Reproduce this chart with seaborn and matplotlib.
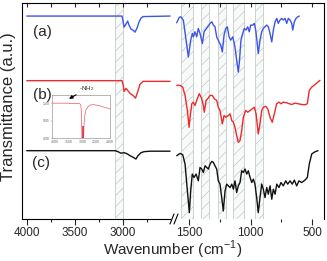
import matplotlib
matplotlib.use("Agg")
import matplotlib.pyplot as plt
import seaborn as sns
import pandas as pd
from matplotlib.ticker import FixedLocator, NullLocator

# spectra (transmittance in a.u., traces offset)
wn_a_left = [4005, 3500, 3007, 2994, 2986, 2971, 2960, 2948, 2934, 2913, 2892, 2871, 2850, 2829, 2808, 2787, 2504]
t_a_left = [202, 202, 202, 196, 191, 193, 195, 197, 193, 189, 188, 186, 190, 196, 200, 201.5, 202]
wn_b_left = [4005, 3500, 3007, 2994, 2986, 2965, 2948, 2923, 2892, 2866, 2845, 2819, 2787, 2504]
t_b_left = [137.7, 137.7, 137.7, 133, 127, 130, 128, 125, 123, 120.3, 126, 134, 137, 137]
wn_c_left = [4005, 3500, 3081, 3049, 3018, 2986, 2955, 2923, 2892, 2861, 2840, 2808, 2777, 2714, 2504]
t_c_left = [68, 68, 68, 67, 65.5, 66, 65, 63, 61.5, 59.7, 63, 66, 67, 67.5, 67.5]

wn_a_right = [1603, 1582, 1570, 1549, 1508, 1489, 1476, 1467, 1454, 1440, 1427, 1413, 1394, 1380, 1366,
              1350, 1331, 1317, 1304, 1291, 1277, 1258, 1244, 1231, 1217, 1203, 1190, 1176, 1163, 1146,
              1128, 1114, 1101, 1093, 1079, 1065, 1052, 1038, 1024, 1011, 1000, 983, 970, 959, 951,
              938, 924, 910, 897, 883, 869, 856, 842, 828, 815, 801, 787, 775, 761, 747,
              734, 720, 706, 693, 679, 665, 657, 644, 630, 616, 603]
t_a_right = [195.3, 200.7, 201.3, 198, 161.3, 178, 184.7, 181.3, 186.3, 181.3, 189.7, 184.7, 174.7, 186.3, 188.7,
             191.3, 194.7, 196.3, 193, 191.3, 181.3, 176.3, 173, 166.3, 183, 189.7, 191.3, 181.3, 178, 181.3,
             171.3, 158, 146.3, 154.7, 178, 184.7, 189.7, 188, 191.3, 186.3, 193, 193, 194.7, 188, 179.7,
             164.7, 178, 186.3, 189.7, 191.3, 193, 191.3, 184.7, 176.3, 188, 196.3, 199.7, 194.7, 198, 199.7,
             198, 199.7, 194.7, 199.7, 198, 194.7, 188, 196.3, 199.7, 201.3, 202]

wn_b_right = [1603, 1576, 1554, 1535, 1516, 1502, 1494, 1480, 1467, 1454, 1435, 1419, 1399, 1386, 1378,
              1364, 1350, 1331, 1313, 1296, 1277, 1264, 1250, 1231, 1217, 1201, 1182, 1168, 1154, 1141,
              1128, 1114, 1101, 1087, 1073, 1060, 1040, 1024, 1005, 987, 970, 956, 938, 924, 910,
              897, 875, 861, 842, 824, 807, 788, 769, 753, 734, 706, 685, 665, 639, 612,
              584, 557, 538, 522, 502, 484, 467, 451, 435]
t_b_right = [133, 133, 131.3, 123, 108, 91.3, 101.3, 114.7, 116.3, 113, 119.7, 124.7, 119.7, 113, 106.3,
             118, 119.7, 123, 123, 119.7, 118, 111.3, 108, 94.7, 103, 101.3, 103, 104.7, 98, 96.3,
             91.3, 83, 76.3, 78, 88, 101.3, 108, 106.3, 108, 109.7, 111.3, 104.7, 84.7, 94.7, 108,
             111.3, 112, 109.7, 101.3, 96.3, 104.7, 114.7, 116.3, 114.7, 116.3, 115.7, 114.7, 114, 115.3, 114.7,
             114, 113.7, 114.7, 128, 131.3, 133, 134.7, 136.3, 138]

wn_c_right = [1603, 1576, 1554, 1535, 1516, 1500, 1489, 1476, 1462, 1445, 1427, 1413, 1399, 1386, 1372,
              1358, 1345, 1331, 1317, 1304, 1291, 1277, 1264, 1250, 1236, 1223, 1209, 1195, 1182, 1168,
              1154, 1141, 1128, 1114, 1101, 1087, 1073, 1060, 1046, 1032, 1019, 1005, 991, 978, 965,
              951, 938, 924, 910, 897, 883, 869, 856, 842, 828, 815, 801, 787, 769, 753,
              734, 714, 698, 679, 661, 644, 625, 606, 584, 557, 538, 522, 502, 484, 467, 451]
t_c_right = [63, 65.3, 64, 54.7, 28, 6.3, 28, 44.7, 41.3, 44.7, 38, 51.3, 49.7, 46.3, 53,
             51.3, 49.7, 54.7, 57.3, 56.3, 53, 49.7, 38, 34.7, 21.3, 8, 28, 34.7, 33, 31.3,
             34.7, 29.7, 38, 26.3, 33, 36.3, 48, 46.3, 49.7, 44.7, 48, 41.3, 36.3, 39.7, 34.7,
             21.3, 6.3, 21.3, 34.7, 29.7, 21.3, 31.3, 24.7, 33, 19.7, 29.7, 24.7, 34.7, 31.3, 36.3,
             33, 38, 34.7, 38, 34.7, 38.7, 33, 38, 36.3, 38.7, 41.3, 54.7, 64.7, 66.3, 67.3, 68]

bands_left = [(3085, 2995)]
bands_right = [(1570, 1467), (1407, 1337), (1264, 1203), (1141, 1054), (965, 900)]

# inset spectrum
wn_inset = [4100, 3500, 3450, 3100, 3060, 3040, 3025, 3015, 2960, 2945, 2920, 2880, 2800, 2700, 2600, 2400, 2200, 2000]
t_inset = [1.000, 1.000, 0.999, 0.999, 0.995, 0.98, 0.93, 0.88, 0.88, 0.93, 0.96, 0.98, 0.99, 0.995, 0.996, 0.993, 0.988, 0.984]
wn_inset_red = [3010, 3010, 2990, 2990]
t_inset_red = [0.90, 0.935, 0.935, 0.90]
wn_inset_blue = [2960, 2700]
t_inset_blue = [0.9005, 0.9005]

colors = {"a": "#3d55e6", "b": "#ee2a2a", "c": "#111111"}

sns.set_style("ticks")
plt.rcParams["font.family"] = ["Liberation Sans", "DejaVu Sans"]
plt.rcParams["mathtext.fontset"] = "custom"
plt.rcParams["mathtext.rm"] = "Liberation Sans"
plt.rcParams["hatch.linewidth"] = 0.5
plt.rcParams["hatch.color"] = "#c3cbcb"

W, H = 327, 261
fig = plt.figure(figsize=(W / 100, H / 100), dpi=100)
y0, y1 = 1 - 219 / H, 1 - 3 / H
ax1 = fig.add_axes([22 / W, y0, (175 - 22) / W, y1 - y0])
ax2 = fig.add_axes([175 / W, y0, (324 - 175) / W, y1 - y0])

left = [(wn_a_left, t_a_left, "a"), (wn_b_left, t_b_left, "b"), (wn_c_left, t_c_left, "c")]
right = [(wn_a_right, t_a_right, "a"), (wn_b_right, t_b_right, "b"), (wn_c_right, t_c_right, "c")]

for ax, traces, bands in [(ax1, left, bands_left), (ax2, right, bands_right)]:
    for lo, hi in bands:
        ax.axvspan(lo, hi, facecolor="#f8f9f9", edgecolor="#c3cbcb", hatch="///", lw=0.6, zorder=0)
    for wn, t, key in traces:
        df = pd.DataFrame({"wn": wn, "t": t})
        sns.lineplot(data=df, x="wn", y="t", ax=ax, color=colors[key], lw=1.0,
                     sort=False, estimator=None, zorder=3)
    ax.set_ylim(0, 215)
    ax.set_xlabel("")
    ax.set_ylabel("")
    ax.yaxis.set_major_locator(NullLocator())
    ax.tick_params(axis="x", which="major", direction="out", length=4, width=0.8,
                   labelsize=8.5, pad=2, top=True)
    ax.tick_params(axis="x", which="minor", direction="out", length=2.5, width=0.8, top=True)
    for s in ax.spines.values():
        s.set_linewidth(0.8)
        s.set_color("black")

ax1.set_xlim(4055, 2452)
ax1.xaxis.set_major_locator(FixedLocator([4000, 3500, 3000]))
ax1.xaxis.set_minor_locator(FixedLocator([3750, 3250, 2750]))
ax1.spines["right"].set_visible(False)
ax1.spines["bottom"].set_bounds(4055, 2505)

ax2.set_xlim(1617, 402)
ax2.xaxis.set_major_locator(FixedLocator([1500, 1000, 500]))
ax2.xaxis.set_minor_locator(FixedLocator([1250, 750]))
ax2.spines["left"].set_visible(False)
ax2.spines["bottom"].set_visible(False)

# top ticks point inward
for ax in (ax1, ax2):
    for t in ax.xaxis.get_major_ticks() + ax.xaxis.get_minor_ticks():
        t.tick2line.set_marker(3)
        t.tick2line.set_markersize(3)

# axis break marks
yb = 1 - 219 / H
for dx in (0, 4):
    fig.add_artist(plt.Line2D([(170 + dx) / W, (174 + dx) / W], [yb - 5 / H, yb + 5 / H],
                              color="black", lw=0.8))

ax1.text(0.134, 0.865, "(a)", transform=ax1.transAxes, fontsize=11, ha="center", va="center")
ax1.text(0.130, 0.572, "(b)", transform=ax1.transAxes, fontsize=11, ha="center", va="center")
ax1.text(0.124, 0.257, "(c)", transform=ax1.transAxes, fontsize=11, ha="center", va="center")

fig.text(0.529, 1 - 250 / H, "Wavenumber (cm$^{\\mathregular{-1}}$)", fontsize=11, ha="center", va="center")
fig.text(0.0245, 1 - 107 / H, "Transmittance (a.u.)", fontsize=12, rotation=90, ha="center", va="center")

# inset
axi = fig.add_axes([52 / W, 1 - 138 / H, 58 / W, 43.5 / H])
sns.lineplot(x=wn_inset, y=t_inset, ax=axi, color="#f07080", lw=0.6, sort=False, estimator=None)
sns.lineplot(x=wn_inset_red, y=t_inset_red, ax=axi, color="#d01020", lw=0.5, sort=False, estimator=None)
sns.lineplot(x=wn_inset_blue, y=t_inset_blue, ax=axi, color="#3050e0", lw=0.6, sort=False, estimator=None)
axi.set_xlim(4100, 2000)
axi.set_ylim(0.90, 1.025)
axi.set_xticks([4000, 3500, 3000, 2500, 2000])
axi.set_yticks([0.90, 0.95, 1.00])
axi.set_yticklabels(["0.90", "0.95", "1.00"])
axi.tick_params(labelsize=2.5, length=1, width=0.3, pad=0.5, colors="#666666")
for s in axi.spines.values():
    s.set_linewidth(0.5)
    s.set_color("#999999")
axi.annotate("-NH$_2$", xy=(3484, 1.0125), xytext=(2830, 1.042), fontsize=4.5,
             ha="center", va="center", annotation_clip=False,
             arrowprops=dict(arrowstyle="-|>", color="black", lw=0.8, mutation_scale=5,
                             shrinkA=6, shrinkB=0))

fig.savefig("out.png", dpi=100)
